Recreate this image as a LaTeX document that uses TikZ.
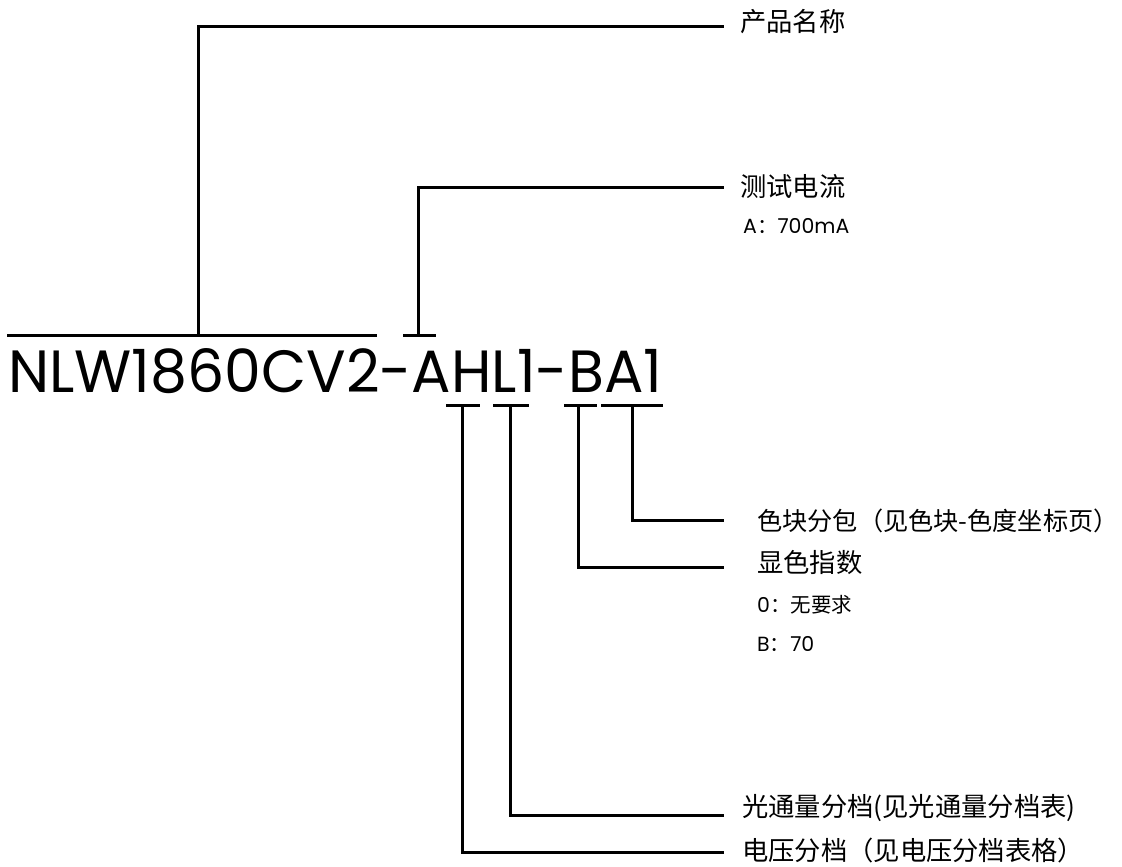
\documentclass[tikz,border=0pt]{standalone}
\usepackage{fontspec}
\setmainfont{Poppins}
\newfontfamily\cjk{Noto Sans CJK SC}
\begin{document}
\begin{tikzpicture}[x=1pt,y=-1pt,
  ln/.style={line width=3pt,line cap=rect},
  big/.style={font=\cjk\fontsize{26.3}{30}\selectfont,anchor=west,inner sep=0},
  small/.style={font=\fontsize{20.5}{24}\selectfont,anchor=west,inner sep=0}]
\useasboundingbox (0,0) rectangle (1122,867);
% main code
\node[anchor=base west,inner sep=0] (code) at (8,392) {\resizebox{654pt}{44pt}{NLW1860CV2-AHL1-BA1}};
% bars
\coordinate (b1l) at (8,335); \coordinate (b1r) at (375,335);
\coordinate (b1m) at (198,335);
\draw[ln] (b1l) -- (b1r);
\coordinate (b2l) at (404,335); \coordinate (b2r) at (434,335); \coordinate (b2m) at (418,335);
\draw[ln] (b2l) -- (b2r);
\coordinate (t1l) at (447,405); \coordinate (t1r) at (478,405); \coordinate (t1m) at (462,405);
\coordinate (t2l) at (494,405); \coordinate (t2r) at (527,405); \coordinate (t2m) at (510,405);
\coordinate (t3l) at (565,405); \coordinate (t3r) at (595,405); \coordinate (t3m) at (578,405);
\coordinate (t4l) at (602,405); \coordinate (t4r) at (661,405); \coordinate (t4m) at (632,405);
\draw[ln] (t1l) -- (t1r); \draw[ln] (t2l) -- (t2r);
\draw[ln] (t3l) -- (t3r); \draw[ln] (t4l) -- (t4r);
% labels
\node[big] (l1) at (740,22) {产品名称};
\node[big] (l2) at (740,186) {测试电流};
\node[small] (l2a) at (743,226) {A{\cjk ：}700mA};
\node[big,font=\cjk\fontsize{25.2}{30}\selectfont] (l3) at (757,521) {色块分包（见色块-色度坐标页）};
\node[big] (l4) at (757,563) {显色指数};
\node[small] (l4a) at (757,605) {0{\cjk ：无要求}};
\node[small] (l4b) at (757,644) {B{\cjk ：}70};
\node[big] (l5) at (742,808) {光通量分档(见光通量分档表)};
\node[big] (l6) at (742,850) {电压分档（见电压分档表格）};
% connectors
\coordinate (e1) at (722,27); \coordinate (e2) at (722,187);
\coordinate (e3) at (722,520); \coordinate (e4) at (722,567);
\coordinate (e5) at (722,815); \coordinate (e6) at (722,852);
\draw[ln] (b1m) |- (e1);
\draw[ln] (b2m) |- (e2);
\draw[ln] (t4m) |- (e3);
\draw[ln] (t3m) |- (e4);
\draw[ln] (t2m) |- (e5);
\draw[ln] (t1m) |- (e6);
\end{tikzpicture}
\end{document}
